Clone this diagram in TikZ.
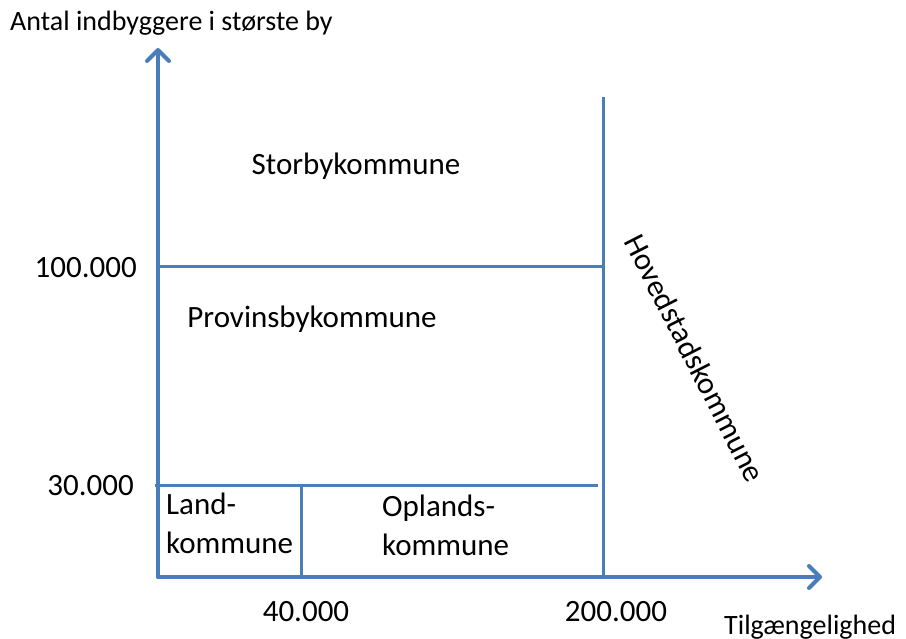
\documentclass[tikz,border=0pt]{standalone}
\usepackage{fontspec}
\setmainfont{Carlito}
\usetikzlibrary{arrows.meta,positioning}
\definecolor{axisblue}{RGB}{74,126,187}

\begin{document}
\begin{tikzpicture}[x=1pt,y=-1pt]
            \tikzstyle{every node}+=[inner sep=0pt]
            \tikzstyle{axis}=[draw=axisblue, line width=4pt, line cap=round, -{Straight Barb[length=11pt,width=22pt,round]}]
            \tikzstyle{grid}=[draw=axisblue, line width=3pt]
            \tikzstyle{big}=[font=\fontsize{31}{39}\selectfont]
            \tikzstyle{small}=[font=\fontsize{28}{32}\selectfont]
            \useasboundingbox (0,0) rectangle (906,639);
            \coordinate (o) at (158,577);
            \coordinate (ytop) at (158,48);
            \coordinate (xend) at (822,577);
            \coordinate (hv top) at (603,97);
            \coordinate (hv bot) at (603,577);
            \coordinate (h1 l) at (158,267);
            \coordinate (h1 r) at (603,267);
            \coordinate (h2 l) at (155,485);
            \coordinate (h2 r) at (598,485);
            \coordinate (v40 t) at (301,485);
            \coordinate (v40 b) at (301,577);
            \draw [grid] (hv top) -- (hv bot);
            \draw [grid] (h1 l) -- (h1 r);
            \draw [grid] (h2 l) -- (h2 r);
            \draw [grid] (v40 t) -- (v40 b);
            \draw [axis] (o) -- (ytop);
            \draw [axis] (o) -- (xend);
            \node [small, anchor=west] (ytitle) at (10,23) {Antal indbyggere i største by};
            \node [small, anchor=west] (xtitle) at (724,627) {Tilgængelighed};
            \node [big] (stor) at (356,166) {Storbykommune};
            \node [big] (prov) at (312,319) {Provinsbykommune};
            \node [big, anchor=east] (y100) at (137,268) {100.000};
            \node [big, anchor=east] (y30) at (134,486) {30.000};
            \node [big] (x40) at (306,612) {40.000};
            \node [big] (x200) at (616,612) {200.000};
            \node [big, align=left, anchor=north west] (land) at (166,493) {Land-\\kommune};
            \node [big, align=left, anchor=north west] (opl) at (382,495) {Oplands-\\kommune};
            \node [big, rotate=-63] (hoved) at (695,358) {Hovedstadskommune};
\end{tikzpicture}
\end{document}
